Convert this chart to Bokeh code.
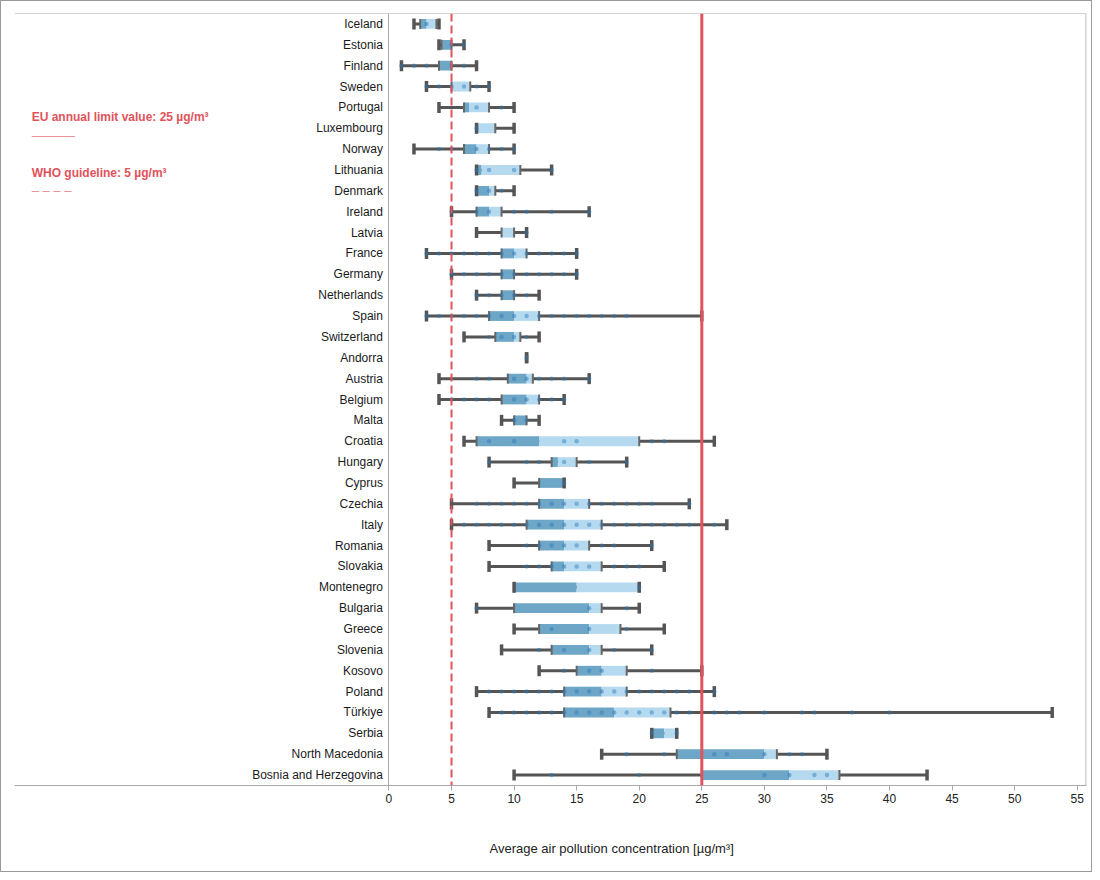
from bokeh.plotting import figure
from bokeh.models import (ColumnDataSource, FactorRange, Range1d, Span, Label,
                          FixedTicker, Title)
from bokeh.embed import file_html
from bokeh.resources import INLINE

countries = ["Iceland", "Estonia", "Finland", "Sweden", "Portugal", "Luxembourg",
             "Norway", "Lithuania", "Denmark", "Ireland", "Latvia", "France",
             "Germany", "Netherlands", "Spain", "Switzerland", "Andorra", "Austria",
             "Belgium", "Malta", "Croatia", "Hungary", "Cyprus", "Czechia", "Italy",
             "Romania", "Slovakia", "Montenegro", "Bulgaria", "Greece", "Slovenia",
             "Kosovo", "Poland", "Türkiye", "Serbia", "North Macedonia",
             "Bosnia and Herzegovina"]

mins    = [2, 4, 1, 3, 4, 7, 2, 7, 7, 5, 7, 3, 5, 7, 3, 6, 11, 4, 4, 9, 6, 8, 10, 5, 5,
           8, 8, 10, 7, 10, 9, 12, 7, 8, 21, 17, 10]
q1s     = [2.5, 4.2, 4, 5, 6, 7, 6, 7, 7, 7, 9, 9, 9, 9, 8, 8.5, 11, 9.5, 9, 10, 7, 13, 12,
           12, 11, 12, 13, 10, 10, 12, 13, 15, 14, 14, 21, 23, 25]
medians = [3, 5, 5, 5, 6.4, 7, 7, 7.4, 8, 8, 9, 10, 10, 10, 10, 10, 11, 11, 11, 11, 12,
           13.5, 14, 14, 14, 14, 14, 15, 16, 16, 16, 17, 17, 18, 22, 30, 32]
q3s     = [3.8, 5, 5, 6.5, 8, 8.5, 8, 10.5, 8.5, 9, 10, 11, 10, 10, 12, 10.5, 11, 11.5, 12,
           11, 20, 15, 14, 16, 17, 16, 17, 20, 17, 18.5, 17, 19, 19, 22.5, 23, 31, 36]
maxs    = [4, 6, 7, 8, 10, 10, 10, 13, 10, 16, 11, 15, 15, 12, 25, 12, 11, 16, 14, 12, 26,
           19, 14, 24, 27, 21, 22, 20, 20, 22, 21, 25, 26, 53, 23, 35, 43]

points = [
    [3],
    [5, 6],
    [1, 2, 3, 5, 6],
    [3, 4, 5, 6, 7, 8],
    [7, 9],
    [7],
    [4, 5, 7, 8, 9, 10],
    [7, 8, 10, 13],
    [7, 8, 9],
    [5, 7, 8, 10, 11, 13, 16],
    [11],
    [3, 4, 5, 6, 7, 8, 9, 10, 11, 12, 13, 14, 15],
    [5, 6, 7, 8, 9, 10, 11, 12, 13, 14, 15],
    [7, 8, 9, 10, 11],
    [3, 4, 5, 6, 7, 8, 9, 10, 11, 12, 13, 14, 15, 16, 17, 18, 19],
    [8, 9, 10, 11],
    [11],
    [7, 8, 10, 11, 12, 13, 14, 16],
    [5, 6, 7, 8, 10, 11, 12, 13, 14],
    [10, 11],
    [8, 10, 14, 15, 21, 22],
    [8, 11, 12, 14, 16, 19],
    [14],
    [7, 8, 9, 10, 11, 12, 13, 14, 15, 16, 17, 18, 19, 20, 21, 24],
    [6, 7, 8, 9, 10, 11, 12, 13, 14, 15, 16, 17, 18, 19, 20, 21, 22, 23, 24, 26],
    [11, 12, 13, 14, 15, 17, 18, 21],
    [11, 12, 13, 14, 15, 16, 18, 19, 20],
    [20],
    [7, 16, 19],
    [13, 16, 19],
    [12, 14, 16, 18, 21],
    [14, 16, 17, 21],
    [8, 9, 10, 11, 12, 13, 14, 15, 16, 17, 18, 19, 20, 21, 22, 23, 24, 26],
    [9, 10, 11, 12, 13, 14, 15, 16, 17, 18, 19, 20, 21, 22, 23, 24, 26, 27, 28, 30,
     33, 34, 37, 40],
    [21, 23],
    [19, 22, 26, 27, 30, 32, 33],
    [13, 20, 30, 32, 34, 35],
]

x_ticks = [0, 5, 10, 15, 20, 25, 30, 35, 40, 45, 50, 55]
eu_limit = 25
who_guideline = 5

FONT = "Liberation Sans"
DARK = "#6ea6c7"
LIGHT = "#b5daf0"
WHISK = "#555555"
RED = "#e1535b"

src = ColumnDataSource(dict(country=countries, mn=mins, q1=q1s, med=medians,
                            q3=q3s, mx=maxs))
px, py = [], []
for c, vals in zip(countries, points):
    for v in vals:
        px.append(v)
        py.append(c)
psrc = ColumnDataSource(dict(x=px, y=py))

p = figure(width=1092, height=872, output_backend="svg", toolbar_location=None,
           y_range=FactorRange(factors=list(reversed(countries))),
           x_range=Range1d(-29.92, 55.74),
           min_border_left=13, min_border_right=7, min_border_top=12,
           min_border_bottom=87)
p.outline_line_color = None
p.xgrid.visible = False
p.ygrid.visible = False
p.background_fill_color = "white"
p.border_fill_color = "white"
p.styles = {"border": "1px solid #999999", "box-sizing": "border-box"}

# whiskers
p.segment(x0="mn", y0="country", x1="mx", y1="country", source=src,
          line_color=WHISK, line_width=3)
# boxes
p.hbar(y="country", left="q1", right="med", height=0.47, source=src,
       fill_color=DARK, line_color=None)
p.hbar(y="country", left="med", right="q3", height=0.47, source=src,
       fill_color=LIGHT, line_color=None)
# box edges
for col in ("q1", "q3"):
    p.rect(x=col, y="country", width=2, width_units="screen", height=10,
           height_units="screen", source=src, fill_color="#666666", line_color=None)
# caps
for col in ("mn", "mx"):
    p.rect(x=col, y="country", width=3.5, width_units="screen", height=11,
           height_units="screen", source=src, fill_color=WHISK, line_color=None)
# points
p.scatter(x="x", y="y", source=psrc, size=4.5, fill_color="#2a78b8",
          fill_alpha=0.45, line_color=None)

# reference lines
p.add_layout(Span(location=eu_limit, dimension="height", line_color=RED,
                  line_width=3))
p.add_layout(Span(location=who_guideline, dimension="height", line_color=RED,
                  line_width=2, line_dash="8 4"))
# frame lines
p.add_layout(Span(location=len(countries), dimension="width", line_color="#aaaaaa",
                  line_width=1))
p.add_layout(Span(location=55.7, dimension="height", line_color="#aaaaaa",
                  line_width=1))

# axes
xa = p.xaxis[0]
xa.ticker = FixedTicker(ticks=x_ticks)
xa.axis_line_color = "#aaaaaa"
xa.major_tick_line_color = "#aaaaaa"
xa.major_tick_in = 0
xa.major_tick_out = 5
xa.minor_tick_line_color = None
xa.major_label_standoff = 3
xa.major_label_text_font = FONT
xa.major_label_text_font_size = "12px"
xa.major_label_text_color = "#222222"

ya = p.yaxis[0]
ya.fixed_location = 0
ya.axis_line_color = "#aaaaaa"
ya.major_tick_line_color = None
ya.minor_tick_line_color = None
ya.major_tick_in = 0
ya.major_tick_out = 0
ya.major_label_standoff = 6
ya.major_label_text_font = FONT
ya.major_label_text_font_size = "12px"
ya.major_label_text_color = "#1a1a1a"

# spacer panel below the axis, then the x-axis title
p.add_layout(Title(text=" ", standoff=12, text_font=FONT, text_font_size="1px"),
             "below")
p.add_layout(Title(text="Average air pollution concentration [µg/m³]",
                   align="left", offset=475, standoff=36, text_font=FONT,
                   text_font_size="13px", text_font_style="normal",
                   text_color="#222222"), "below")

# legend texts
n = len(countries)
p.add_layout(Label(x=-28.55, y=n - (115.5 - 12) / 20.865,
                   text="EU annual limit value: 25 µg/m³", text_font=FONT,
                   text_font_size="12px", text_font_style="bold", text_color=RED,
                   text_baseline="middle"))
p.add_layout(Label(x=-28.55, y=n - (129.5 - 12) / 20.865, text="______",
                   text_font=FONT, text_font_size="13px", text_font_style="bold",
                   text_color="#e0404a", text_baseline="alphabetic"))
p.add_layout(Label(x=-28.55, y=n - (171.5 - 12) / 20.865,
                   text="WHO guideline: 5 µg/m³", text_font=FONT,
                   text_font_size="12px", text_font_style="bold", text_color=RED,
                   text_baseline="middle"))
p.add_layout(Label(x=-28.55, y=n - (184.5 - 12) / 20.865, text="_ _ _ _",
                   text_font=FONT, text_font_size="13px", text_font_style="bold",
                   text_color="#e0404a", text_baseline="alphabetic"))

open("out.html", "w").write(file_html(p, INLINE))
